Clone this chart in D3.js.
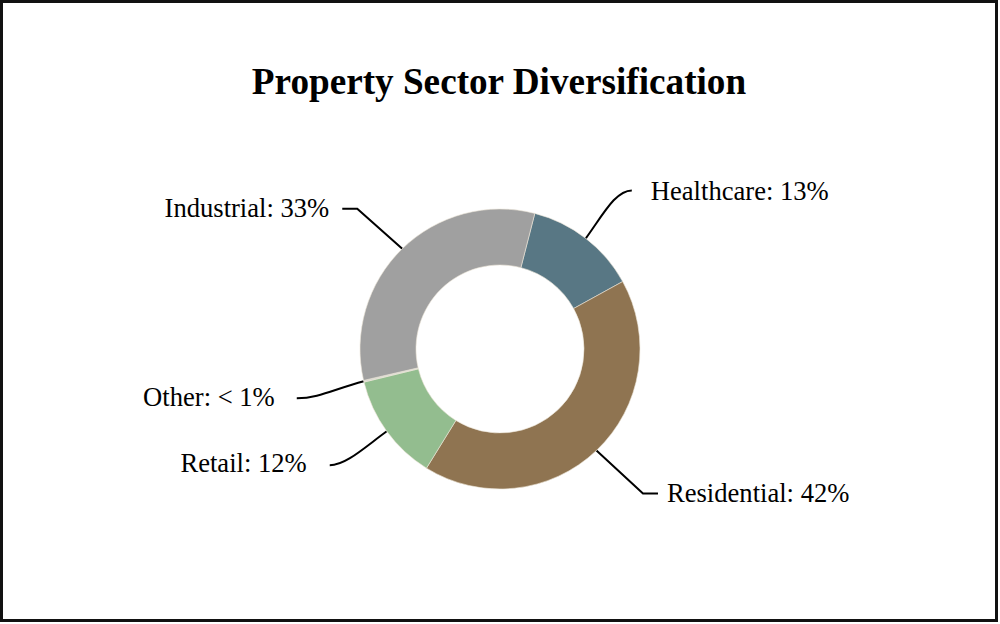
<!DOCTYPE html>
<html>
<head>
<meta charset="utf-8">
<script src="https://cdn.jsdelivr.net/npm/d3@7"></script>
<style>
  html, body { margin: 0; padding: 0; background: #fff; }
  svg { display: block; }
</style>
</head>
<body>
<svg id="chart" width="1000" height="624"></svg>
<script>
// ---- data ----
const categories = ["Healthcare", "Residential", "Retail", "Other", "Industrial"];
const values = [13.0, 41.8, 12.4, 0.2, 32.6];
const labelTexts = ["Healthcare: 13%", "Residential: 42%", "Retail: 12%", "Other: < 1%", "Industrial: 33%"];
const colors = ["#587784", "#8f7451", "#93bd8f", "#d8d8d0", "#a0a0a0"];
const title = "Property Sector Diversification";

// ---- layout ----
const W = 1000, H = 624;
const cx = 500, cy = 349, R = 140, r = 84;
const startDeg = 14.4;
// leader line layout per label: end offset from anchor, shape, text gap
const leader = [
  { dx: 46, dy: -48, shape: "curveUp", side: 1, gap: 19, base: 10 },
  { dx: 61.5, dy: 43, shape: "elbow", elbow: 46.5, side: 1, gap: 9, base: 9 },
  { dx: -57, dy: 34, shape: "curveDown", side: -1, gap: 23, base: 7 },
  { dx: -67, dy: 17, shape: "curveFlat", side: -1, gap: 22, base: 8 },
  { dx: -60, dy: -40, shape: "elbow", elbow: -45, side: -1, gap: 13, base: 8 }
];

const svg = d3.select("#chart");
svg.append("rect").attr("x", 0).attr("y", 0).attr("width", W).attr("height", H).attr("fill", "#fff");
svg.append("rect").attr("x", 1.5).attr("y", 1.5).attr("width", 995).attr("height", 619)
  .attr("fill", "none").attr("stroke", "#111").attr("stroke-width", 3);

svg.append("text").attr("x", 499).attr("y", 94).attr("text-anchor", "middle")
  .attr("font-family", "'Liberation Serif', 'Times New Roman', serif")
  .attr("font-weight", "bold").attr("font-size", 37.2).attr("fill", "#000").text(title);

const data = categories.map((c, i) => ({ cat: c, value: values[i], i }));
const pie = d3.pie().sort(null).value(d => d.value)
  .startAngle(startDeg * Math.PI / 180).endAngle(startDeg * Math.PI / 180 + 2 * Math.PI);
const arcs = pie(data);
const arc = d3.arc().innerRadius(r).outerRadius(R);

const g = svg.append("g").attr("transform", `translate(${cx},${cy})`);

const lines = svg.append("g");
const labels = svg.append("g");
arcs.forEach((a, k) => {
  const L = leader[k];
  const mid = (a.startAngle + a.endAngle) / 2;
  const x0 = cx + R * Math.sin(mid), y0 = cy - R * Math.cos(mid);
  const x1 = x0 + L.dx, y1 = y0 + L.dy;
  const p = d3.path();
  p.moveTo(x0, y0);
  if (L.shape === "elbow") {
    p.lineTo(x0 + L.elbow, y1);
    p.lineTo(x1, y1);
  } else if (L.shape === "curveUp") {
    p.bezierCurveTo(x0 + 18, y0 - 25, x1 - 16, y1, x1, y1);
  } else if (L.shape === "curveDown") {
    p.bezierCurveTo(x0 - 22, y0 + 16, x1 + 16, y1, x1, y1);
  } else {
    p.bezierCurveTo(x0 - 30, y0 + 8, x1 + 22, y1, x1, y1);
  }
  lines.append("path").attr("d", p.toString()).attr("fill", "none")
    .attr("stroke", "#000").attr("stroke-width", 2);
  labels.append("text")
    .attr("x", x1 + L.side * L.gap).attr("y", y1 + L.base)
    .attr("text-anchor", L.side > 0 ? "start" : "end")
    .attr("font-family", "'Liberation Serif', 'Times New Roman', serif")
    .attr("font-size", 26.6).attr("fill", "#000").text(labelTexts[k]);
});

g.selectAll("path.slice").data(arcs).enter().append("path")
  .attr("class", "slice")
  .attr("d", arc)
  .attr("fill", d => colors[d.data.i])
  .attr("stroke", "#ece6d8").attr("stroke-width", 0.6);

g.raise();
labels.raise();
</script>
</body>
</html>
